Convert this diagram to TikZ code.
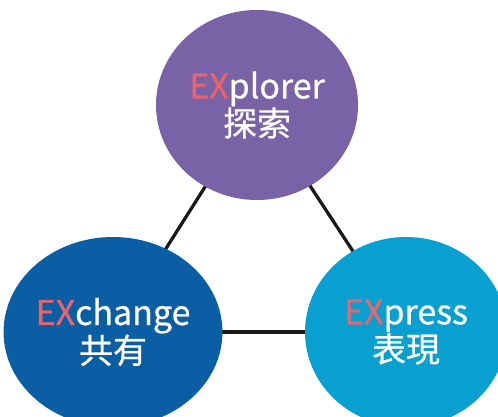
\documentclass[tikz,border=0pt]{standalone}
\usepackage{fontspec}
\setmainfont{Noto Sans CJK TC}[FakeBold=0.6]
\usepackage{tikz}
\usetikzlibrary{shapes.geometric,backgrounds}
\definecolor{explorer}{RGB}{122,98,166}
\definecolor{exchange}{RGB}{10,94,164}
\definecolor{express}{RGB}{8,160,209}
\definecolor{exred}{RGB}{234,100,108}
\newcommand{\EX}{\textcolor{exred}{EX}}

\begin{document}
\begin{tikzpicture}[x=0.03cm, y=-0.03cm,
  bubble/.style={ellipse, minimum width=6.06cm, minimum height=5.7cm, inner sep=0pt,
              text=white, font=\fontsize{29}{27}\selectfont, align=center},
  link/.style={line width=2.8pt, black!90},
]
\useasboundingbox (0,0) rectangle (498,417);
\clip (0,0) rectangle (498,417);

% Explorer
\node[bubble, fill=explorer] (explorer) at (257,105) {\EX plorer\\探索};

% Exchange
\node[bubble, fill=exchange] (exchange) at (113,332) {\EX change\\共有};

% Express
\node[bubble, fill=express] (express) at (406,332) {\EX press\\表現};

% Liens
\begin{scope}[on background layer]
\fill[white] (0,0) rectangle (498,417);
\draw[link] (explorer.center) -- (exchange.center);
\draw[link] (explorer.center) -- (express.center);
\draw[link] (exchange.center) -- (express.center);
\end{scope}

\end{tikzpicture}
\end{document}
